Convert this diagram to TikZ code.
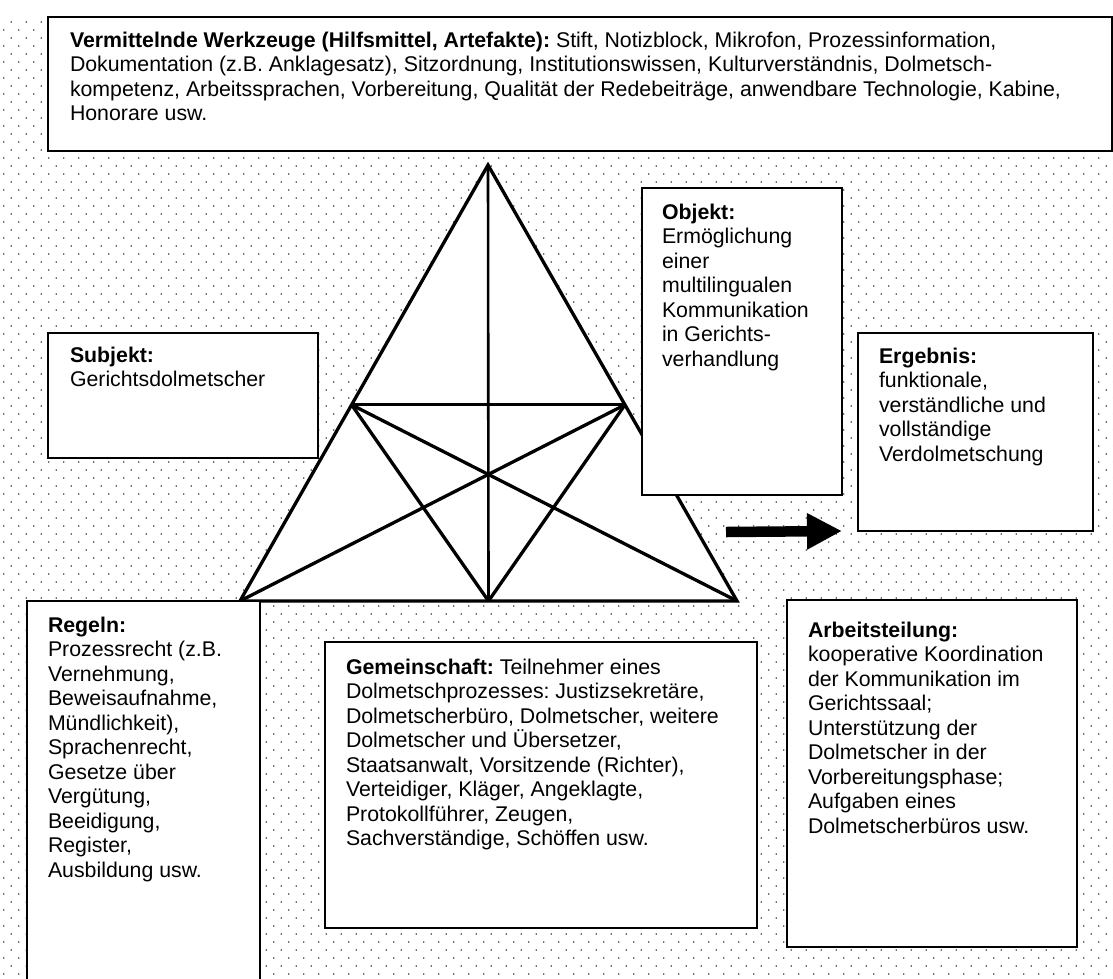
\documentclass[tikz,border=0pt]{standalone}
\usepackage{fontspec}
\setmainfont{Liberation Sans}
\usetikzlibrary{arrows.meta,patterns,calc}
\frenchspacing

% staggered dot raster for the background
\pgfdeclarepatternformonly{courtdots}{\pgfpoint{-1pt}{-1pt}}{\pgfpoint{16pt}{17pt}}{\pgfpoint{15pt}{16pt}}{%
  \pgfpathcircle{\pgfpoint{3.75pt}{4pt}}{0.85pt}%
  \pgfpathcircle{\pgfpoint{11.25pt}{12pt}}{0.85pt}%
  \pgfusepath{fill}%
}

\begin{document}
\begin{tikzpicture}[
            x=1pt, y=-1pt,
            every node/.style={inner sep=0pt, outer sep=0pt},
            box/.style={draw, fill=white, line width=2pt, anchor=north west},
            boxtext/.style={align=left, anchor=north west, font=\fontsize{21.3}{24.5}\selectfont},
            tri/.style={line width=3.3pt, line join=miter}
        ]
        \clip (0,0) rectangle (1113,978);
        % dotted background
        \fill[pattern=courtdots, pattern color=black!75] (0,17) rectangle (1113,978);

        % triangle
        \coordinate (apex) at (488,165);
        \coordinate (bl) at (240,601);
        \coordinate (br) at (737,601);
        \coordinate (ml) at ($(apex)!.55!(bl)$);
        \coordinate (mr) at ($(apex)!.55!(br)$);
        \coordinate (mb) at ($(bl)!.5!(br)$);
        \filldraw[tri, fill=white] (apex) -- (bl) -- (br) -- cycle;
        \draw[line width=2.6pt] (apex) -- (mb);
        \foreach \from/\to in {ml/mr, ml/br, mr/bl, ml/mb, mr/mb}
            \draw[tri] (\from) -- (\to);

        % boxes
        \node[box, minimum width=1064pt, minimum height=134pt] (werkzeuge) at (48,17) {};
        \node[box, minimum width=270pt, minimum height=125pt] (subjekt) at (48,333) {};
        \node[box, minimum width=200pt, minimum height=307pt] (objekt) at (642,188) {};
        \node[box, minimum width=235pt, minimum height=198pt] (ergebnis) at (858,333) {};
        \node[box, minimum width=233pt, minimum height=390pt] (regeln) at (27,601) {};
        \node[box, minimum width=432pt, minimum height=286pt] (gemeinschaft) at (325,642) {};
        \node[box, minimum width=290pt, minimum height=347pt] (arbeitsteilung) at (787,600) {};

        % texts
        \node[boxtext] (werkzeugetext) at ([shift={(22,15)}]werkzeuge.north west)
            {\textbf{Vermittelnde Werkzeuge (Hilfsmittel, Artefakte):} Stift, Notizblock, Mikrofon, Prozessinformation,\\
             Dokumentation (z.B. Anklagesatz), Sitzordnung, Institutionswissen, Kulturverständnis, Dolmetsch-\\
             kompetenz, Arbeitssprachen, Vorbereitung, Qualität der Redebeiträge, anwendbare Technologie, Kabine,\\
             Honorare usw.};
        \node[boxtext] (subjekttext) at ([shift={(22,14)}]subjekt.north west)
            {\textbf{Subjekt:}\\Gerichtsdolmetscher};
        \node[boxtext] (objekttext) at ([shift={(20,16)}]objekt.north west)
            {\textbf{Objekt:}\\Ermöglichung\\einer\\multilingualen\\Kommunikation\\in Gerichts-\\verhandlung};
        \node[boxtext] (ergebnistext) at ([shift={(21,15)}]ergebnis.north west)
            {\textbf{Ergebnis:}\\funktionale,\\verständliche und\\vollständige\\Verdolmetschung};
        \node[boxtext] (regelntext) at ([shift={(21,16)}]regeln.north west)
            {\textbf{Regeln:}\\Prozessrecht (z.B.\\Vernehmung,\\Beweisaufnahme,\\Mündlichkeit),\\Sprachenrecht,\\Gesetze über\\Vergütung,\\Beeidigung,\\Register,\\Ausbildung usw.};
        \node[boxtext] (gemeinschafttext) at ([shift={(21,17)}]gemeinschaft.north west)
            {\textbf{Gemeinschaft:} Teilnehmer eines\\Dolmetschprozesses: Justizsekretäre,\\Dolmetscherbüro, Dolmetscher, weitere\\Dolmetscher und Übersetzer,\\Staatsanwalt, Vorsitzende (Richter),\\Verteidiger, Kläger, Angeklagte,\\Protokollführer, Zeugen,\\Sachverständige, Schöffen usw.};
        \node[boxtext] (arbeitsteilungtext) at ([shift={(21,22)}]arbeitsteilung.north west)
            {\textbf{Arbeitsteilung:}\\kooperative Koordination\\der Kommunikation im\\Gerichtssaal;\\Unterstützung der\\Dolmetscher in der\\Vorbereitungsphase;\\Aufgaben eines\\Dolmetscherbüros usw.};

        % arrow towards the result
        \coordinate (arrowtail) at (726,532);
        \draw[line width=10.5pt, -{Triangle[length=35pt,width=34pt]}] (arrowtail) -- ([xshift=-16pt]ergebnis.south west);
\end{tikzpicture}
\end{document}
